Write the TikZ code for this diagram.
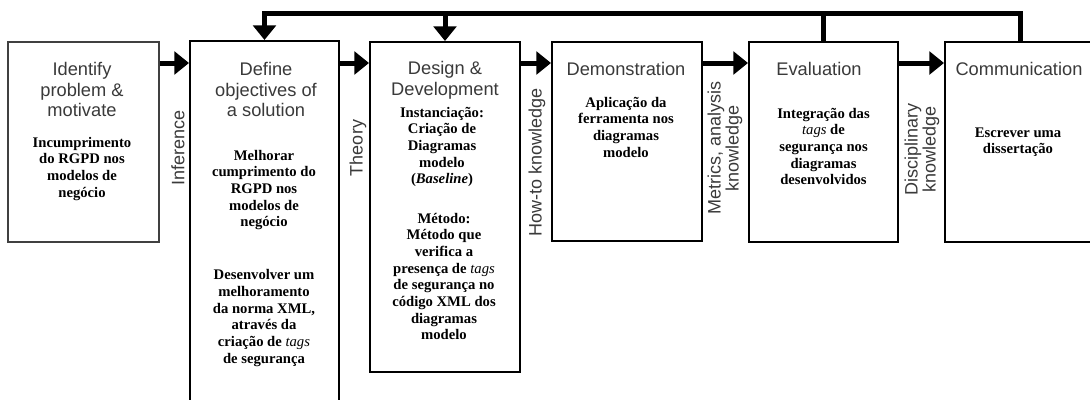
\documentclass[tikz,border=0pt]{standalone}
\usepackage{fontspec}
\setmainfont{Liberation Serif}
\setsansfont{Liberation Sans}
\usetikzlibrary{arrows.meta}
\definecolor{titlegray}{HTML}{3A3A3A}
\tikzset{
  stage/.style={draw=black, line width=1.5pt, fill=white, inner sep=0pt},
  firststage/.style={stage, draw=black!75, line width=1.2pt},
  % multi-line texts are placed by the baseline of their last line
  title/.style={font=\sffamily\fontsize{13.7}{15.2}\selectfont, text=titlegray,
    align=center, anchor=base, inner sep=0pt},
  content/.style={font=\bfseries\fontsize{11}{12.5}\selectfont, align=center,
    anchor=base, inner sep=0pt},
  knowledge/.style={font=\sffamily\fontsize{13.5}{12.5}\selectfont, text=titlegray,
    align=center, rotate=90, inner sep=0pt},
  flow/.style={line width=3.75pt, -{Triangle[length=11pt,width=17pt]}},
  feedback/.style={line width=3.75pt, line join=miter},
}
\begin{document}
\begin{tikzpicture}[x=0.75pt,y=-0.75pt]
\useasboundingbox (0,0) rectangle (1090,400);
\clip (0,0) rectangle (1090,400);

% the six activities
\node[firststage, minimum width=113.25pt, minimum height=150pt]   (b1) at (83.5,142) {};
\node[stage, minimum width=111.75pt, minimum height=279pt]        (b2) at (264.5,227) {};
\node[stage, minimum width=112.5pt,  minimum height=247.5pt]      (b3) at (445,207) {};
\node[stage, minimum width=112.5pt,  minimum height=149.25pt]     (b4) at (627,141.5) {};
\node[stage, minimum width=111.75pt, minimum height=150pt]        (b5) at (823.5,142) {};
\node[stage, minimum width=112.5pt,  minimum height=150pt]        (b6) at (1020,142) {};

% activity titles
\node[title] (t1) at (82,116.5)  {Identify\\problem \&\\motivate};
\node[title] (t2) at (266,116.5) {Define\\objectives of\\a solution};
\node[title] (t3) at (445,95)    {Design \&\\Development};
\node[title] (t4) at (626,75)    {Demonstration};
\node[title] (t5) at (819,75)    {Evaluation};
\node[title] (t6) at (1019,75)   {Communication};

% activity contents
\node[content] (c1) at (82,197) {Incumprimento\\do RGPD nos\\modelos de\\negócio};
\node[content] (c2a) at (264,226.7) {Melhorar\\cumprimento do\\RGPD nos\\modelos de\\negócio};
\node[content] (c2b) at (264,363.3) {Desenvolver um\\melhoramento\\da norma XML,\\através da\\criação de \textit{\mdseries tags}\\de segurança};
\node[content] (c3a) at (442,183.7) {Instanciação:\\Criação de\\Diagramas\\modelo\\(\textit{Baseline})};
\node[content] (c3b) at (444,339.7) {Método:\\Método que\\verifica a\\presença de \textit{\mdseries tags}\\de segurança no\\código XML dos\\diagramas\\modelo};
\node[content] (c4) at (626,157) {Aplicação da\\ferramenta nos\\diagramas\\modelo};
\node[content] (c5) at (823.5,184.7) {Integração das\\\textit{\mdseries tags} de\\segurança nos\\diagramas\\desenvolvidos};
\node[content] (c6) at (1018,153.7) {Escrever uma\\dissertação};

% knowledge flowing between activities
\node[knowledge] (k1) at (178,148) {Inference};
\node[knowledge] (k2) at (358,148) {Theory};
\node[knowledge] (k3) at (537,162) {How-to knowledge};
\node[knowledge] (k4) at (725,148) {Metrics, analysis\\knowledge};
\node[knowledge] (k5) at (922,149) {Disciplinary\\knowledge};

% forward process arrows
\coordinate (row) at (0,63);
\draw[flow] (b1.east |- row) -- (b2.west |- row);
\draw[flow] (b2.east |- row) -- (b3.west |- row);
\draw[flow] (b3.east |- row) -- (b4.west |- row);
\draw[flow] (b4.east |- row) -- (b5.west |- row);
\draw[flow] (b5.east |- row) -- (b6.west |- row);

% iteration back to earlier activities
\coordinate (top) at (0,13);
\draw[feedback, -{Triangle[length=11pt,width=17pt]}]
  (b6.north) -- (b6.north |- top) -- (b2.north |- top) -- (b2.north);
\draw[feedback] (b5.north) -- (b5.north |- top);
\draw[feedback, -{Triangle[length=11pt,width=17pt]}] (b3.north |- top) -- (b3.north);
\end{tikzpicture}
\end{document}
